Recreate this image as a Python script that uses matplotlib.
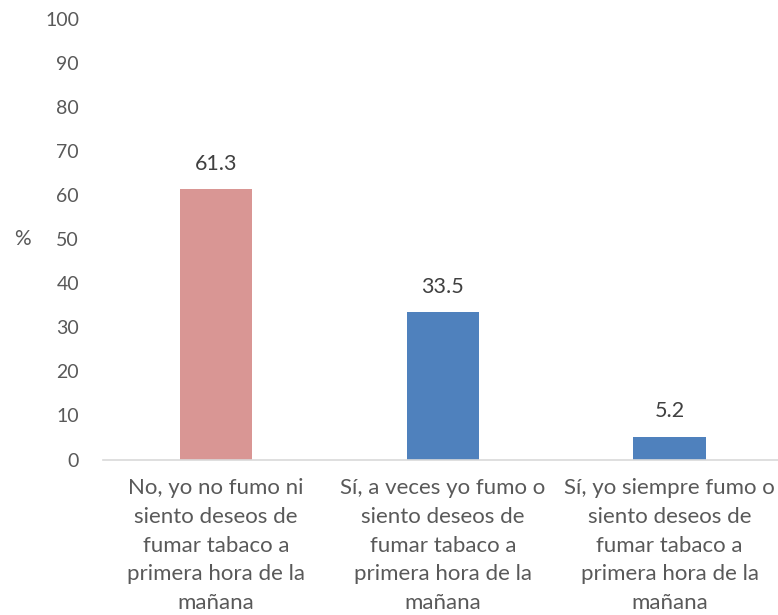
import matplotlib
matplotlib.use("Agg")
import matplotlib.pyplot as plt

categories = [
    "No, yo no fumo ni\nsiento deseos de\nfumar tabaco a\nprimera hora de la\nmañana",
    "Sí, a veces yo fumo o\nsiento deseos de\nfumar tabaco a\nprimera hora de la\nmañana",
    "Sí, yo siempre fumo o\nsiento deseos de\nfumar tabaco a\nprimera hora de la\nmañana",
]
values = [61.3, 33.5, 5.2]
bar_colors = ["#D99694", "#4F81BD", "#4F81BD"]
y_ticks = list(range(0, 101, 10))

plt.rcParams["font.family"] = ["Lato", "DejaVu Sans"]

fig = plt.figure(figsize=(7.78, 6.15), dpi=100)
ax = fig.add_axes([0.1319, 0.2528, 0.8744, 0.7163])

x = range(len(values))
bars = ax.bar(x, values, width=0.318, color=bar_colors)

for b, v in zip(bars, values):
    ax.text(b.get_x() + b.get_width() / 2, v + 3.5, f"{v:.1f}",
            ha="center", va="bottom", fontsize=15.5, color="#404040")

ax.set_xlim(-0.5, 2.5)
ax.set_ylim(0, 100)
ax.set_yticks(y_ticks)
ax.set_xticks(list(x))
ax.set_xticklabels(categories, fontsize=16, color="#595959", linespacing=1.56)
ax.tick_params(axis="y", labelsize=14, labelcolor="#595959", length=0, pad=17)
ax.tick_params(axis="x", length=0, pad=13)

for s in ["top", "right", "left"]:
    ax.spines[s].set_visible(False)
ax.spines["bottom"].set_color("#D9D9D9")
ax.spines["bottom"].set_linewidth(1.2)

ax.set_ylabel("%", rotation=0, fontsize=15, color="#595959", labelpad=16, va="center")

fig.savefig("out.png", dpi=100)
plt.close(fig)
